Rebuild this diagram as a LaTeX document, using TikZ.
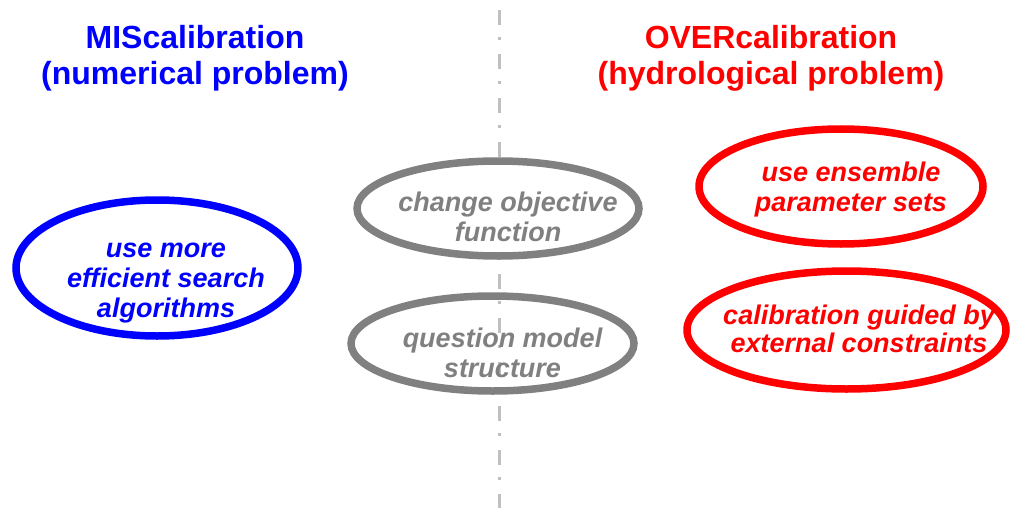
\documentclass[tikz,border=0pt]{standalone}
\usepackage{fontspec}
\setmainfont{Liberation Sans}
\usetikzlibrary{shapes,positioning,calc}
\definecolor{ovalgray}{RGB}{128,128,128}
\definecolor{linegray}{RGB}{192,192,192}
\tikzset{
    oval/.style={draw, ellipse, line width=7.5pt, inner sep=0pt},
    heading/.style={font=\fontsize{32}{36}\selectfont\bfseries, align=center},
    idea/.style={font=\fontsize{27}{30}\selectfont\bfseries\itshape, align=center},
    divider/.style={linegray, line width=3pt, dash pattern=on 15pt off 12pt on 3pt off 14pt}
}

\begin{document}
\begin{tikzpicture}[x=1pt, y=-1pt]
    \useasboundingbox (0,0) rectangle (1011,508);

    \node[heading, blue] (mis) at (195,58.5) {MIScalibration\\(numerical problem)};
    \node[heading, red] (over) at (771,58.5) {OVERcalibration\\(hydrological problem)};

    % dividing line between the two sides
    \coordinate (top) at (499,10);
    \coordinate (bottom) at (499,508);
    \draw[divider] (top) -- (bottom);

    % numerical side
    \node[oval, blue, minimum width=282pt, minimum height=136pt] (search) at (157,268) {};
    \node[idea, blue] (searchtxt) at (166,283) {use more\\efficient search\\algorithms};

    % both sides
    \node[oval, ovalgray, fill=white, minimum width=282pt, minimum height=95pt] (objective) at (498,208.5) {};
    \node[idea, ovalgray] (objectivetxt) at (508,217) {change objective\\function};
    \node[oval, ovalgray, minimum width=283pt, minimum height=95pt] (structure) at (492.5,343.5) {};
    \node[idea, ovalgray] (structuretxt) at (502.5,353) {question model\\structure};

    % hydrological side
    \node[oval, red, minimum width=284pt, minimum height=115pt] (ensemble) at (841,186.5) {};
    \node[idea, red] (ensembletxt) at (851,189.5) {use ensemble\\parameter sets};
    \node[oval, red, minimum width=319pt, minimum height=118pt] (guided) at (846.5,330) {};
    \node[idea, red, font=\fontsize{27}{28}\selectfont\bfseries\itshape] (guidedtxt) at (859,329) {calibration guided by\\external constraints};
\end{tikzpicture}
\end{document}
